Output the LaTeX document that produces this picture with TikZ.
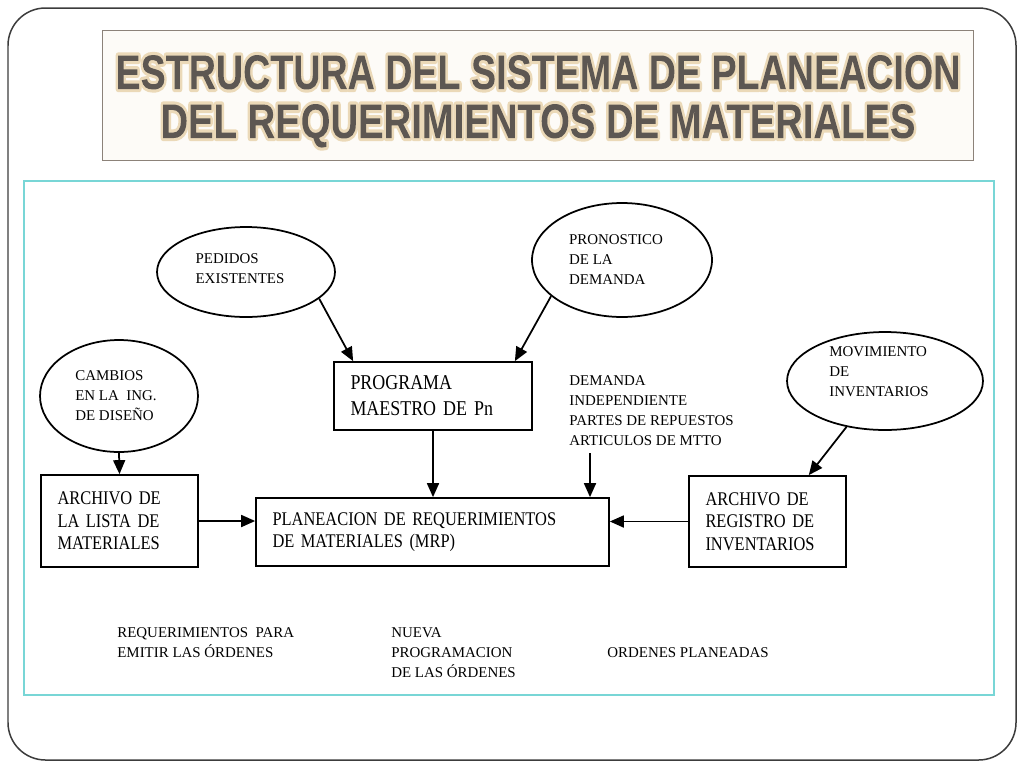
\documentclass[tikz,border=0pt]{standalone}
\usepackage{graphicx}
\usepackage{fontspec}
\setmainfont{Liberation Serif}
\newfontfamily\titlefont{Liberation Sans}
\newfontfamily\boxfont[FakeStretch=0.85]{Liberation Serif}
\usepackage{xcolor}
\usepackage{tikz}
\usetikzlibrary{
	shapes.geometric,					% Ellipse shapes for the inputs
	arrows.meta,						% Advanced arrows
	calc								% Calculate point coordinates
}
\definecolor{framegrey}{RGB}{60,60,60}
\definecolor{titlegrey}{RGB}{93,87,82}
\definecolor{titleedge}{RGB}{140,130,121}
\definecolor{titlefill}{RGB}{253,251,247}
\definecolor{cyanframe}{RGB}{120,214,214}
% Title line: beige halo stroked round the letters, letters refilled in grey through their own clip
\newcommand{\titleline}[2]{\resizebox{#1}{0.68cm}{\titlefont\bfseries\special{pdf:literal direct q 6 Tr 1.3 w 1 j 0.92 0.85 0.72 RG}#2\special{pdf:literal direct 0 Tr 0.365 0.341 0.322 rg -20000 -20000 40000 40000 re f Q}}}
% Offset of the text inside an ellipse (right pad, bottom pad)
\newcommand{\padtext}[2]{\hspace*{#1}\rule[-#2]{0pt}{0pt}}

\begin{document}
\begin{tikzpicture}
		[
		,x=0.02cm
		,y=-0.02cm
		,bubble/.style = {
			,ellipse
			,draw=black
			,line width=0.035cm
			,inner sep=0pt
			,align=left
			,font=\fontsize{8.5}{11.4}\selectfont}
		,block/.style = {
			,rectangle
			,draw=black
			,line width=0.035cm
			,inner xsep=0.33cm
			,inner ysep=0pt
			,align=left
			,font=\boxfont\fontsize{11}{12.8}\selectfont}
		,note/.style = {
			,inner sep=0pt
			,align=left
			,font=\fontsize{8.5}{11.4}\selectfont}
		,flow/.style = {
			,line width=0.035cm
			,-{Triangle[length=0.28cm, width=0.24cm]}}
		]
		
		% Page and frames
		\fill [white] (0,0) rectangle (1024,768);
		\useasboundingbox (0,0) rectangle (1024,768);
		\draw [framegrey, line width=0.03cm, rounded corners=0.75cm] (8,8) rectangle (1016,760);
		\draw [titleedge, fill=titlefill, line width=0.02cm] (102,30) rectangle (973,160);
		\draw [cyanframe, line width=0.045cm] (24,181) rectangle (994,695);
		
		% Title, first line
		\node [anchor=base, inner sep=0pt, text=titlegrey] (titlea) at (538,89) {\titleline{16.9cm}{ESTRUCTURA DEL SISTEMA DE PLANEACION}};
		
		% Inputs
		\node [bubble, minimum width=3.56cm, minimum height=1.8cm]  (pedidos)    at (246,272) {PEDIDOS\\EXISTENTES\padtext{0.24cm}{0.12cm}};
		\node [bubble, minimum width=3.6cm,  minimum height=2.28cm] (pronostico) at (622,260) {PRONOSTICO\padtext{0.24cm}{0pt}\\DE LA\\DEMANDA};
		\node [bubble, minimum width=3.16cm, minimum height=2.24cm] (cambios)    at (119,396) {CAMBIOS\\EN LA \ ING.\padtext{0.12cm}{0pt}\\DE DISEÑO\padtext{0.12cm}{0pt}};
		\node [bubble, minimum width=3.92cm, minimum height=1.96cm] (movimiento) at (885,381) {MOVIMIENTO\\DE\\INVENTARIOS\padtext{0.24cm}{0.36cm}};
		
		% Files and planning
		\node [block, text width=3.30cm, minimum height=1.36cm, font=\boxfont\fontsize{12}{14.7}\selectfont] (programa) at (433,396) {PROGRAMA\\MAESTRO DE Pn};
		\node [block, text width=2.48cm, minimum height=1.84cm] (lista)    at (119.5,521) {ARCHIVO DE\\LA LISTA DE\\MATERIALES};
		\node [block, text width=6.40cm, minimum height=1.36cm] (mrp)      at (432.5,532) {PLANEACION DE REQUERIMIENTOS\\DE MATERIALES (MRP)};
		\node [block, text width=2.48cm, minimum height=1.82cm] (registro) at (767.5,521.5) {ARCHIVO DE\\REGISTRO DE\\INVENTARIOS};
		
		% Free labels
		\node [note, anchor=west] (demanda)   at (569,411)   {DEMANDA\\INDEPENDIENTE\\PARTES DE REPUESTOS\\ARTICULOS DE MTTO};
		\node [note, anchor=west] (emitir)    at (117,642.5) {REQUERIMIENTOS \ PARA\\EMITIR LAS ÓRDENES};
		\node [note, anchor=west] (nueva)     at (391,653)   {NUEVA\\PROGRAMACION\\DE LAS ÓRDENES};
		\node [note, anchor=west] (planeadas) at (607,653)   {ORDENES PLANEADAS};
		\coordinate (demandafoot) at ($(demanda.south west)+(21,7)$);
		
		% Arrows
		\draw [flow] (pedidos.-20) -- ($(programa.north west)!0.1!(programa.north east)$);
		\draw [flow] (pronostico.-153) -- ($(programa.north west)!0.91!(programa.north east)$);
		\draw [flow] (cambios.south) -- (lista.north);
		\draw [flow] (programa.south) -- (mrp.north -| programa.south);
		\draw [flow] (demandafoot) -- (mrp.north -| demandafoot);
		\draw [flow] (lista.east) -- (lista.east -| mrp.west);
		\draw [flow] (registro.west) -- (registro.west -| mrp.east);
		\draw [flow] (movimiento.-130) -- ($(registro.north west)!0.76!(registro.north east)$);
		
		% Title, second line
		\node [anchor=base, inner sep=0pt, text=titlegrey] (titleb) at (538,138) {\titleline{15.1cm}{DEL REQUERIMIENTOS DE MATERIALES}};
	\end{tikzpicture}
\end{document}
